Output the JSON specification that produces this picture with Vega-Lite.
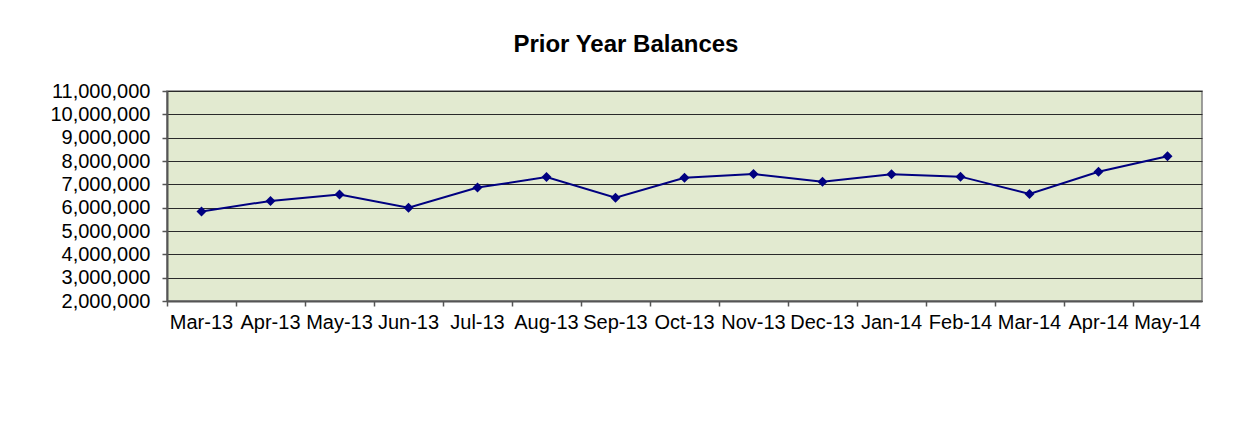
{
  "$schema": "https://vega.github.io/schema/vega-lite/v6.json",
  "autosize": {"type": "none"},
  "width": 1035,
  "height": 210,
  "padding": {"left": 167, "top": 91, "right": 47, "bottom": 131},
  "background": "white",
  "title": {
    "text": "Prior Year Balances",
    "font": "Liberation Sans",
    "fontSize": 24,
    "fontWeight": "bold",
    "color": "black",
    "anchor": "middle",
    "frame": "bounds",
    "offset": 24
  },
  "config": {
    "view": {"fill": "#E2EAD0", "stroke": "#808080", "strokeWidth": 1.5},
    "axis": {
      "labelFont": "Liberation Sans",
      "labelFontSize": 20,
      "labelColor": "black",
      "domainColor": "#555555",
      "domainWidth": 2,
      "tickColor": "#555555",
      "tickWidth": 1.5,
      "title": null
    }
  },
  "data": {
    "values": [
      {"month": "Mar-13", "balance": 5840000},
      {"month": "Apr-13", "balance": 6290000},
      {"month": "May-13", "balance": 6560000},
      {"month": "Jun-13", "balance": 6000000},
      {"month": "Jul-13", "balance": 6860000},
      {"month": "Aug-13", "balance": 7310000},
      {"month": "Sep-13", "balance": 6430000},
      {"month": "Oct-13", "balance": 7280000},
      {"month": "Nov-13", "balance": 7440000},
      {"month": "Dec-13", "balance": 7110000},
      {"month": "Jan-14", "balance": 7430000},
      {"month": "Feb-14", "balance": 7330000},
      {"month": "Mar-14", "balance": 6590000},
      {"month": "Apr-14", "balance": 7540000},
      {"month": "May-14", "balance": 8200000}
    ]
  },
  "encoding": {
    "x": {
      "field": "month",
      "type": "ordinal",
      "sort": null,
      "bandPosition": 0.5,
      "scale": {"type": "band", "paddingInner": 0, "paddingOuter": 0},
      "axis": {
        "labelAngle": 0,
        "bandPosition": 0,
        "tickSize": 5,
        "labelPadding": 6,
        "grid": false
      }
    },
    "y": {
      "field": "balance",
      "type": "quantitative",
      "scale": {"domain": [2000000, 11000000], "nice": false, "zero": false},
      "axis": {
        "values": [2000000, 3000000, 4000000, 5000000, 6000000, 7000000, 8000000, 9000000, 10000000, 11000000],
        "format": ",d",
        "tickSize": 5,
        "labelPadding": 12,
        "grid": true,
        "gridColor": "#2a2a2a",
        "gridWidth": 1,
        "gridOpacity": 1
      }
    }
  },
  "layer": [
    {"mark": {"type": "line", "color": "#000080", "strokeWidth": 2}},
    {"mark": {"type": "point", "shape": "diamond", "filled": true, "color": "#000080", "opacity": 1, "size": 100}}
  ]
}
